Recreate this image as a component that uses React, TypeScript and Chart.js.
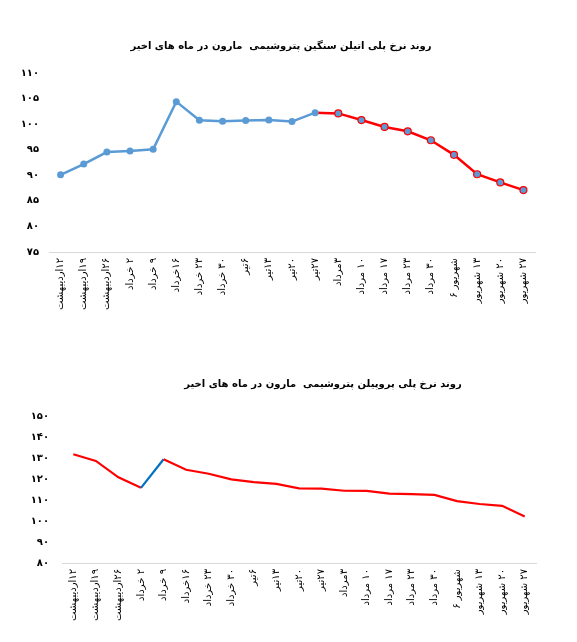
import React, { useEffect, useRef } from "react";
import { Chart, registerables } from "chart.js";

Chart.register(...registerables);

const categories = [
  "۱۲اردیبهشت", "۱۹اردیبهشت", "۲۶اردیبهشت", "۲ خرداد", "۹ خرداد", "۱۶خرداد", "۲۳ خرداد",
  "۳۰ خرداد", "۶تیر", "۱۳تیر", "۲۰تیر", "۲۷تیر", "۳مرداد", "۱۰ مرداد", "۱۷ مرداد",
  "۲۳ مرداد", "۳۰ مرداد", "شهریور ۶", "۱۳ شهریور", "۲۰ شهریور", "۲۷ شهریور",
];

const peTitle = "روند نرخ پلی اتیلن سنگین پتروشیمی  مارون در ماه های اخیر";
const ppTitle = "روند نرخ پلی پروپیلن پتروشیمی  مارون در ماه های اخیر";

const peValues = [90.1, 92.2, 94.55, 94.75, 95.1, 104.4, 100.76, 100.57, 100.7, 100.8, 100.5, 102.25,
  102.1, 100.8, 99.45, 98.6, 96.85, 94.0, 90.2, 88.6, 87.1];
const peSplit = 11; // red part starts at this index

const ppValues = [131.8, 128.6, 120.8, 115.8, 129.4, 124.4, 122.5, 119.8, 118.5, 117.7, 115.5, 115.4,
  114.4, 114.3, 113.0, 112.8, 112.4, 109.5, 108.1, 107.2, 102.1];
const ppBlueSegment = 3; // segment from index 3 to 4 is blue

const peYTicks = { min: 75, max: 110, step: 5 };
const ppYTicks = { min: 80, max: 150, step: 10 };

const BLUE = "#5B9BD5";
const DARK_BLUE = "#0070C0";
const RED = "#FF0000";
const FONT = "'DejaVu Sans', sans-serif";

const fa = (v: number | string) => String(v).replace(/\d/g, (d) => "۰۱۲۳۴۵۶۷۸۹"[Number(d)]);

const titlePlugin = {
  id: "placedTitle",
  afterDraw(chart: any, _args: any, opts: any) {
    if (!opts || !opts.text) return;
    const ctx = chart.ctx;
    ctx.save();
    ctx.font = `bold ${opts.size}px ${FONT}`;
    ctx.fillStyle = "#000";
    ctx.textAlign = "center";
    ctx.textBaseline = "middle";
    ctx.fillText(opts.text, opts.x, opts.y);
    ctx.restore();
  },
};

function baseOptions(title: string, yt: { min: number; max: number; step: number }, cfg: any) {
  return {
    responsive: false,
    animation: false,
    layout: { padding: { left: 0, right: cfg.right, top: cfg.top, bottom: 0 } },
    plugins: {
      legend: { display: false },
      tooltip: { enabled: false },
      title: { display: false },
      placedTitle: { text: title, x: cfg.titleX, y: cfg.titleY, size: 10 },
    },
    scales: {
      x: {
        offset: true,
        grid: { display: false, drawTicks: false },
        border: { display: true, color: "#D9D9D9", width: 1 },
        ticks: {
          autoSkip: false,
          minRotation: 90,
          maxRotation: 90,
          padding: 6,
          color: "#000",
          font: { family: FONT, size: 10 },
        },
        afterFit: (s: any) => { s.height = cfg.xHeight; },
      },
      y: {
        min: yt.min,
        max: yt.max,
        grid: { display: false, drawTicks: false },
        border: { display: false },
        ticks: {
          stepSize: yt.step,
          padding: cfg.yPad,
          color: "#000",
          font: { family: FONT, size: 10, weight: "bold" },
          callback: (v: any) => fa(v),
        },
        afterFit: (s: any) => { s.width = cfg.left; },
      },
    },
  };
}

function PEChart() {
  const ref = useRef<HTMLCanvasElement>(null);
  useEffect(() => {
    const blue = peValues.map((v, i) => (i <= peSplit ? v : null));
    const red = peValues.map((v, i) => (i >= peSplit ? v : null));
    const chart = new Chart(ref.current!, {
      type: "line",
      plugins: [titlePlugin],
      data: {
        labels: categories,
        datasets: [
          {
            data: blue,
            borderColor: BLUE,
            backgroundColor: BLUE,
            borderWidth: 2.5,
            pointRadius: 3.5,
            pointBorderWidth: 0,
            pointBackgroundColor: BLUE,
            tension: 0,
          },
          {
            data: red,
            borderColor: RED,
            backgroundColor: BLUE,
            borderWidth: 2.5,
            pointRadius: red.map((_, i) => (i === peSplit ? 0 : 3.5)),
            pointBorderWidth: 1.2,
            pointBorderColor: RED,
            pointBackgroundColor: BLUE,
            tension: 0,
          },
        ],
      },
      options: baseOptions(peTitle, peYTicks, {
        right: 42, left: 49, yPad: 10, xHeight: 78, top: 73, titleX: 281, titleY: 46,
      }) as any,
    });
    return () => chart.destroy();
  }, []);
  return (
    <canvas ref={ref} width={577} height={330}
      style={{ width: 577, height: 330, display: "block", direction: "rtl" }} />
  );
}

function PPChart() {
  const ref = useRef<HTMLCanvasElement>(null);
  useEffect(() => {
    const chart = new Chart(ref.current!, {
      type: "line",
      plugins: [titlePlugin],
      data: {
        labels: categories,
        datasets: [
          {
            data: ppValues,
            borderColor: RED,
            borderWidth: 2.2,
            pointRadius: 0,
            tension: 0,
            segment: {
              borderColor: (ctx: any) => (ctx.p0DataIndex === ppBlueSegment ? DARK_BLUE : RED),
            },
          },
        ],
      },
      options: baseOptions(ppTitle, ppYTicks, {
        right: 41, left: 62, yPad: 13, xHeight: 79, top: 76, titleX: 323, titleY: 44,
      }) as any,
    });
    return () => chart.destroy();
  }, []);
  return (
    <canvas ref={ref} width={577} height={302}
      style={{ width: 577, height: 302, display: "block", direction: "rtl" }} />
  );
}

export default function App() {
  return (
    <div style={{ position: "absolute", left: 0, top: 0, width: 577, height: 642, background: "#fff" }}>
      <div style={{ position: "absolute", left: 0, top: 0 }}>
        <PEChart />
      </div>
      <div style={{ position: "absolute", left: 0, top: 340 }}>
        <PPChart />
      </div>
    </div>
  );
}
